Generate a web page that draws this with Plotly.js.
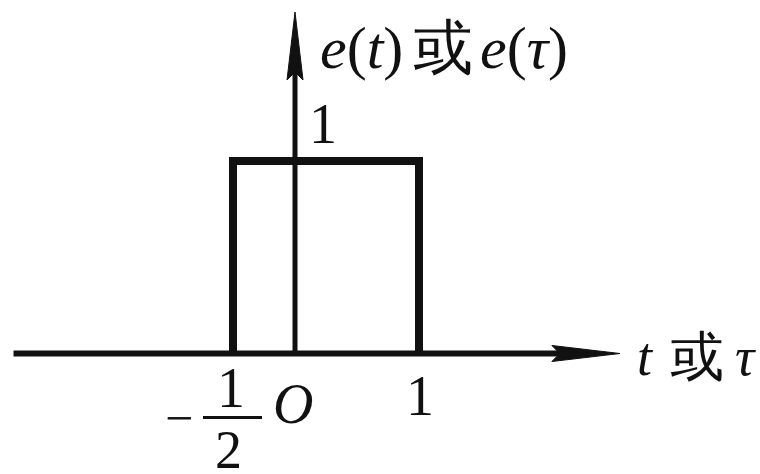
<!DOCTYPE html>
<html>
<head>
<meta charset="utf-8">
<script src="https://cdn.plot.ly/plotly-3.0.1.min.js"></script>
<style>
  html, body { margin: 0; padding: 0; background: #fff; }
  #chart { width: 760px; height: 474px; }
</style>
</head>
<body>
<div id="chart"></div>
<script>
// Rectangular pulse e(t): 1 on [-1/2, 1], 0 elsewhere
const pulseT = [-0.5, -0.5, 1, 1];
const pulseE = [0, 1, 1, 0];

// Axis extents (data units) and label texts
const tAxisEnd = 2.62;
const eAxisEnd = 1.774;
const yLabelParts = ['<i>e</i>(<i>t</i>)', '或', '<i>e</i>(<i>τ</i>)'];
const xLabelParts = ['<i>t</i>', '或', '<i>τ</i>'];

const INK = '#111';
const SERIF = 'Liberation Serif';

const trace = {
  x: pulseT,
  y: pulseE,
  type: 'scatter',
  mode: 'lines',
  line: { color: INK, width: 8 },
  hoverinfo: 'skip',
  showlegend: false
};

function lbl(text, x, y, xshift, yshift, size) {
  return {
    text: text, x: x, y: y, xref: 'x', yref: 'y',
    xshift: xshift, yshift: yshift,
    xanchor: 'center', yanchor: 'middle',
    showarrow: false,
    font: { family: SERIF, size: size, color: INK }
  };
}

const annotations = [
  // vertical axis name
  lbl(yLabelParts[0], 0, eAxisEnd, 66, -36, 60),
  lbl(yLabelParts[1], 0, eAxisEnd, 148, -36, 60),
  lbl(yLabelParts[2], 0, eAxisEnd, 229, -36, 60),
  // horizontal axis name
  lbl(xLabelParts[0], tAxisEnd, 0, 26, -3, 54),
  lbl(xLabelParts[1], tAxisEnd, 0, 77, -3, 54),
  lbl(xLabelParts[2], tAxisEnd, 0, 126, -3, 54),
  // level 1 on the vertical axis
  lbl('1', 0, pulseE[1], 28, 37, 56),
  // origin
  lbl('<i>O</i>', 0, 0, -2, -50, 56),
  // right edge t = 1
  lbl('1', pulseT[2], 0, 1, -42, 56),
  // left edge t = -1/2, written as a fraction
  lbl('−', pulseT[0], 0, -54, -64, 50),
  lbl('1', pulseT[0], 0, -2, -34, 56),
  lbl('2', pulseT[0], 0, -5, -96, 54)
];

const shapes = [
  // t axis
  { type: 'line', xref: 'x', yref: 'y', x0: -2.27, x1: tAxisEnd - 0.3, y0: 0, y1: 0,
    line: { color: INK, width: 6 } },
  // e axis
  { type: 'line', xref: 'x', yref: 'y', x0: 0, x1: 0, y0: 0, y1: eAxisEnd - 0.2,
    line: { color: INK, width: 5 } },
  // arrowheads
  { type: 'path', xref: 'x', yref: 'y', xsizemode: 'pixel', ysizemode: 'pixel',
    xanchor: tAxisEnd, yanchor: 0,
    path: 'M0,0 L-68,8 L-60,0 L-68,-8 Z',
    fillcolor: INK, line: { color: INK, width: 1 } },
  { type: 'path', xref: 'x', yref: 'y', xsizemode: 'pixel', ysizemode: 'pixel',
    xanchor: 0, yanchor: eAxisEnd,
    path: 'M0,0 L-8,-68 L0,-60 L8,-68 Z',
    fillcolor: INK, line: { color: INK, width: 1 } },
  // fraction bar of -1/2
  { type: 'line', xref: 'x', yref: 'y', xsizemode: 'pixel', ysizemode: 'pixel',
    xanchor: pulseT[0], yanchor: 0,
    x0: -30, x1: 29, y0: -64, y1: -64,
    line: { color: INK, width: 3 } }
];

const layout = {
  width: 760,
  height: 474,
  margin: { l: 0, r: 0, t: 0, b: 0 },
  paper_bgcolor: '#fff',
  plot_bgcolor: '#fff',
  xaxis: { range: [-2.379, 3.75], visible: false, fixedrange: true },
  yaxis: { range: [-0.626, 1.8364], visible: false, fixedrange: true },
  annotations: annotations,
  shapes: shapes,
  showlegend: false
};

Plotly.newPlot('chart', [trace], layout, { staticPlot: true, displayModeBar: false });
</script>
</body>
</html>
